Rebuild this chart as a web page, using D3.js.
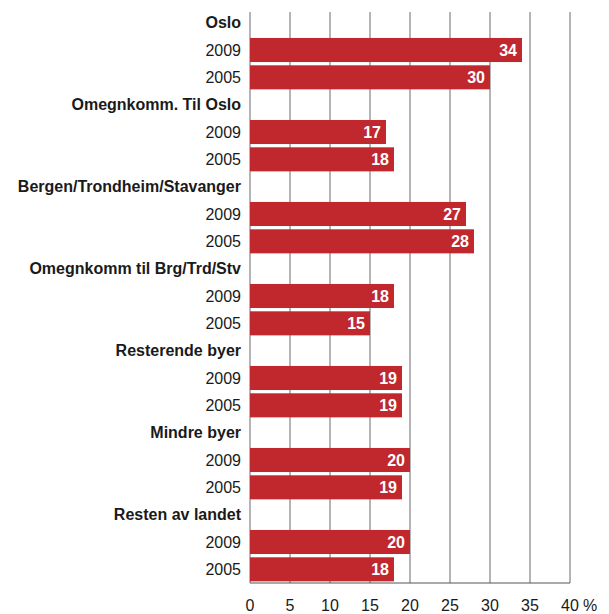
<!DOCTYPE html>
<html>
<head>
<meta charset="utf-8">
<script src="https://cdn.jsdelivr.net/npm/d3@7"></script>
<style>
  body { margin: 0; background: #fff; }
  text { font-family: "Liberation Sans", Arial, sans-serif; }
</style>
</head>
<body>
<div id="chart"></div>
<script>
// regions and the two survey years
var regions = ["Oslo", "Omegnkomm. Til Oslo", "Bergen/Trondheim/Stavanger",
  "Omegnkomm til Brg/Trd/Stv", "Resterende byer", "Mindre byer", "Resten av landet"]
var years = ["2009", "2005"]
var values2009 = [34, 17, 27, 18, 19, 20, 20]
var values2005 = [30, 18, 28, 15, 19, 19, 18]
var xTicks = [0, 5, 10, 15, 20, 25, 30, 35, 40]

var width = 609, height = 614
var margin = {top: 9, right: 39, bottom: 31, left: 250}

var svg = d3.select("#chart").append("svg")
  .attr("width", width)
  .attr("height", height)

// one row per header and per year bar
var rows = []
regions.forEach(function(r, i) {
  rows.push({id: "h" + i, label: r, header: true})
  rows.push({id: "a" + i, label: years[0], value: values2009[i]})
  rows.push({id: "b" + i, label: years[1], value: values2005[i]})
})

var x = d3.scaleLinear().domain([0, 40]).range([margin.left, width - margin.right])
var y = d3.scaleBand()
  .domain(rows.map(function(d) { return d.id }))
  .range([margin.top, height - margin.bottom])
  .paddingInner(0.12)
  .paddingOuter(0.06)

var plotTop = 12, plotBottom = height - margin.bottom

// gridlines
svg.selectAll(".grid")
  .data(xTicks)
  .enter().append("line")
  .attr("x1", function(d) { return x(d) })
  .attr("x2", function(d) { return x(d) })
  .attr("y1", plotTop)
  .attr("y2", plotBottom)
  .style("stroke", "#6a6a6a")
  .style("stroke-width", 1)

// bars
var bars = rows.filter(function(d) { return !d.header })
svg.selectAll(".bar")
  .data(bars)
  .enter().append("rect")
  .attr("x", x(0))
  .attr("y", function(d) { return y(d.id) })
  .attr("width", function(d) { return x(d.value) - x(0) })
  .attr("height", y.bandwidth())
  .style("fill", "#c1282e")

// value labels inside the bars
svg.selectAll(".val")
  .data(bars)
  .enter().append("text")
  .attr("x", function(d) { return x(d.value) - 5 })
  .attr("y", function(d) { return y(d.id) + y.bandwidth() / 2 })
  .attr("dy", "0.36em")
  .attr("text-anchor", "end")
  .style("fill", "#fff")
  .style("font-size", "16px")
  .style("font-weight", "bold")
  .text(function(d) { return d.value })

// row labels
svg.selectAll(".lab")
  .data(rows)
  .enter().append("text")
  .attr("x", 241)
  .attr("y", function(d) { return y(d.id) + y.bandwidth() / 2 })
  .attr("dy", "0.36em")
  .attr("text-anchor", "end")
  .style("fill", "#1a1a1a")
  .style("font-size", "16px")
  .style("font-weight", function(d) { return d.header ? "bold" : "normal" })
  .text(function(d) { return d.label })

// bottom axis line
svg.append("line")
  .attr("x1", x(0)).attr("x2", x(40))
  .attr("y1", plotBottom).attr("y2", plotBottom)
  .style("stroke", "#555")
  .style("stroke-width", 1.2)

// tick labels
svg.selectAll(".tick")
  .data(xTicks)
  .enter().append("text")
  .attr("x", function(d) { return x(d) })
  .attr("y", 605)
  .attr("dy", "0.36em")
  .attr("text-anchor", "middle")
  .style("fill", "#1a1a1a")
  .style("font-size", "16px")
  .text(function(d) { return d })

svg.append("text")
  .attr("x", x(40) + 13)
  .attr("y", 605)
  .attr("dy", "0.36em")
  .style("fill", "#1a1a1a")
  .style("font-size", "16px")
  .text("%")
</script>
</body>
</html>
